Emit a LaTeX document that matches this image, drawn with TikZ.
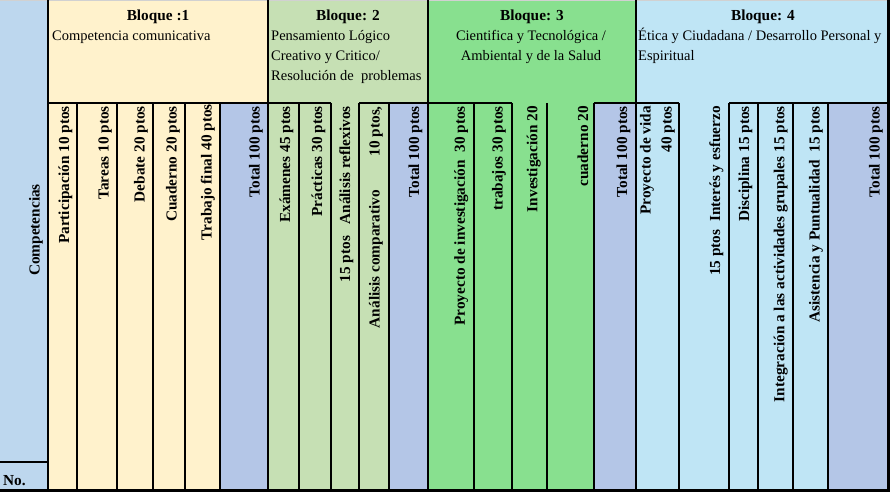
\documentclass[tikz,border=0pt]{standalone}
\usepackage{fontspec}
\setmainfont{Liberation Serif}
\usetikzlibrary{positioning}
\definecolor{leftblue}{RGB}{189,215,238}
\definecolor{cremay}{RGB}{255,242,204}
\definecolor{totblue}{RGB}{180,198,231}
\definecolor{palegr}{RGB}{198,224,180}
\definecolor{brightgr}{RGB}{136,224,143}
\definecolor{skyb}{RGB}{191,229,245}

\begin{document}
\begin{tikzpicture}[x=1pt,y=-1pt,
    lab/.style={rotate=90,anchor=south east,inner sep=0pt,font=\bfseries\fontsize{15.3}{21}\selectfont},
    ttl/.style={anchor=base,inner sep=0pt,font=\bfseries\fontsize{15.3}{20}\selectfont},
    dsc/.style={inner sep=0pt,font=\fontsize{14.5}{20}\selectfont},
    rule/.style={line width=2.2pt}]
				\useasboundingbox (0,0) rectangle (890,492);
				% fondos
				\fill[leftblue] (0,0) rectangle (48,490);
				\fill[cremay] (48,0) rectangle (268,490);
				\fill[totblue] (220,103) rectangle (268,490);
				\fill[palegr] (268,0) rectangle (428,490);
				\fill[totblue] (389,103) rectangle (428,490);
				\fill[brightgr] (428,0) rectangle (636,490);
				\fill[totblue] (594,103) rectangle (636,490);
				\fill[skyb] (636,0) rectangle (888,490);
				\fill[totblue] (828,103) rectangle (888,490);
				\fill[black!18] (0,0) rectangle (890,1.5);

				% encabezados
				\node[ttl] (TA) at (158,21) {Bloque :1};
				\node[ttl] (TB) at (348,21) {Bloque: 2};
				\node[ttl] (TC) at (532,21) {Bloque: 3};
				\node[ttl] (TD) at (763,21) {Bloque: 4};
				\node[dsc,anchor=base west] (SA) at (52,41) {Competencia comunicativa};
				\node[dsc,anchor=base west,align=left] (SB) at (271,81) {Pensamiento Lógico\\Creativo y Critico/\\Resolución de\ \ problemas};
				\node[dsc,anchor=base,align=center] (SC) at (531,61) {Cientifica y Tecnológica /\\Ambiental y de la Salud};
				\node[dsc,anchor=base west,align=left] (SD) at (638,61) {Ética y Ciudadana / Desarrollo Personal y\\Espiritual};

				% columnas
				\node[lab,anchor=south] (K) at (43,230) {Competencias};
				\node[ttl,anchor=base west] (N) at (3,485) {No.};
				\node[lab] (A1) at (72.5,106) {Participación 10 ptos};
				\node[lab] (A2) at (112,106) {Tareas 10 ptos};
				\node[lab] (A3) at (148,106) {Debate 20 ptos};
				\node[lab] (A4) at (180,106) {Cuaderno 20 ptos};
				\node[lab] (A5) at (215,104) {Trabajo final 40 ptos};
				\node[lab] (A6) at (263,106) {Total 100 ptos};
				\node[lab] (B1) at (293.5,106) {Exámenes 45 ptos};
				\node[lab] (B2) at (325.5,106) {Prácticas 30 ptos};
				\node[lab] (B3) at (353.5,106) {15 ptos\ \ \ Análisis reflexivos};
				\node[lab] (B4) at (383,106) {Análisis comparativo\hspace{2.2em}10 ptos,};
				\node[lab] (B5) at (422.5,106) {Total 100 ptos};
				\node[lab] (C1) at (468.5,106) {Proyecto de investigación\ \ 30 ptos};
				\node[lab] (C2) at (506,106) {trabajos 30 ptos};
				\node[lab] (C3) at (541,106) {Investigación 20};
				\node[lab] (C4) at (588.5,106) {cuaderno 20};
				\node[lab] (C5) at (630.5,106) {Total 100 ptos};
				\node[lab,align=right] (D1) at (675,106) {Proyecto de vida\\40 ptos};
				\node[lab] (D2) at (723.5,106) {15 ptos\ \ Interés y esfuerzo};
				\node[lab] (D3) at (752.5,106) {Disciplina 15 ptos};
				\node[lab] (D4) at (788,106) {Integración a las actividades grupales 15 ptos};
				\node[lab] (D5) at (823,106) {Asistencia y Puntualidad\ \ 15 ptos};
				\node[lab] (D6) at (883,106) {Total 100 ptos};

				% lineas
				\draw[rule] (48,0) -- (48,490);
				\draw[rule] (268,0) -- (268,490);
				\draw[rule] (428,0) -- (428,490);
				\draw[rule] (636,0) -- (636,490);
				\draw[rule] (888.5,0) -- (888.5,490);
				\draw[rule] (77,103) -- (77,490);
				\draw[rule] (117,103) -- (117,490);
				\draw[rule] (153,103) -- (153,490);
				\draw[rule] (185,103) -- (185,490);
				\draw[rule] (220,103) -- (220,490);
				\draw[rule] (299,103) -- (299,490);
				\draw[rule] (331,103) -- (331,490);
				\draw[rule] (359,103) -- (359,490);
				\draw[rule] (389,103) -- (389,490);
				\draw[rule] (474,103) -- (474,490);
				\draw[rule] (512,103) -- (512,490);
				\draw[rule] (547,103) -- (547,490);
				\draw[rule] (594,103) -- (594,490);
				\draw[rule] (679,103) -- (679,490);
				\draw[rule] (729,103) -- (729,490);
				\draw[rule] (758,103) -- (758,490);
				\draw[rule] (793,103) -- (793,490);
				\draw[rule] (828,103) -- (828,490);
				\draw[rule] (48,103) -- (331,103);
				\draw[rule] (359,103) -- (512,103);
				\draw[rule] (594,103) -- (679,103);
				\draw[rule] (729,103) -- (889.5,103);
				\draw[rule] (0,462) -- (48,462);
				\draw[line width=3pt] (0,490.5) -- (890,490.5);
			\end{tikzpicture}
\end{document}
